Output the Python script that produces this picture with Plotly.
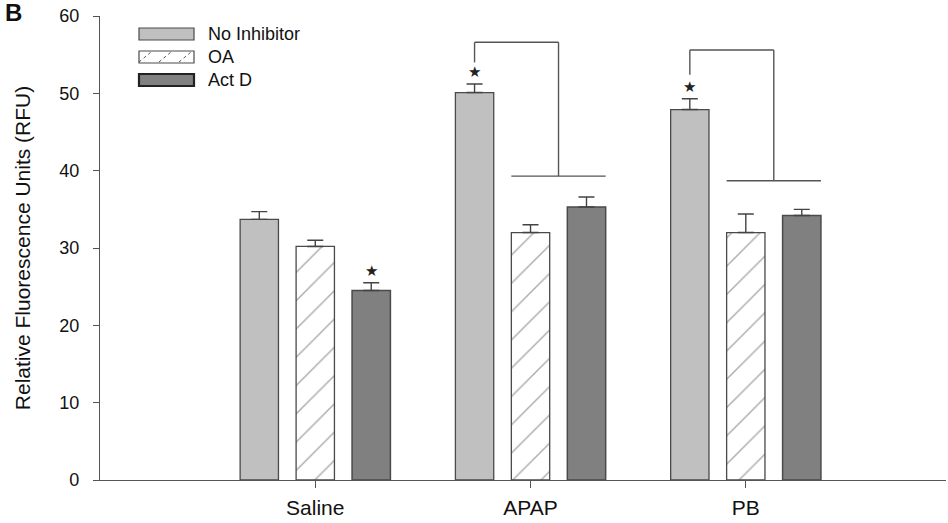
import plotly.graph_objects as go

# ---- data ----
categories = ["Saline", "APAP", "PB"]
series_names = ["No Inhibitor", "OA", "Act D"]
no_inhibitor = [33.7, 50.1, 47.9]
no_inhibitor_err = [1.0, 1.1, 1.4]
oa = [30.2, 32.0, 32.0]
oa_err = [0.8, 1.0, 2.4]
act_d = [24.5, 35.3, 34.2]
act_d_err = [1.0, 1.3, 0.8]
y_ticks = [0, 10, 20, 30, 40, 50, 60]

# significance marks: (series index, category index)
stars = [(2, 0), (0, 1), (0, 2)]
# brackets: category index, top level, left-drop end, lower bar level
bracket_cats = [1, 2]
bracket_top = [56.6, 55.6]
bracket_left_end = [54.0, 52.4]
bracket_low = [39.3, 38.7]

values = [no_inhibitor, oa, act_d]
errors = [no_inhibitor_err, oa_err, act_d_err]

# ---- style ----
FONT = "Liberation Sans, Arial, sans-serif"
EDGE = "#4a4a4a"
AX = "#555555"
fills = ["#c0c0c0", "#ffffff", "#808080"]
edge_w = [1.3, 1.3, 1.5]

bargap = 0.22
bargroupgap = 0.315
pitch = (1 - bargap) / 3
bar_w = pitch * (1 - bargroupgap)
offsets = [-pitch, 0.0, pitch]

fig = go.Figure()
for i, name in enumerate(series_names):
    marker = dict(color=fills[i], line=dict(color=EDGE, width=edge_w[i]))
    if i == 1:
        marker["pattern"] = dict(shape="/", fgcolor="#555555", bgcolor="#ffffff",
                                 size=20, solidity=0.07)
    fig.add_trace(go.Bar(
        name=name, x=categories, y=values[i], marker=marker,
        error_y=dict(type="data", array=errors[i], arrayminus=[0] * len(categories),
                     symmetric=False, color="#444444", thickness=1.4, width=8),
        showlegend=False,
    ))

# stars above error bars
for s, c in stars:
    top = values[s][c] + errors[s][c]
    fig.add_annotation(x=c + offsets[s], y=top, xref="x", yref="y", text="★",
                       showarrow=False, yanchor="bottom", yshift=1,
                       font=dict(family="DejaVu Sans", size=15, color="#222222"))

# brackets
line = dict(color=AX, width=1.4)
for k, c in enumerate(bracket_cats):
    xl = c + offsets[0]
    xr = c + (offsets[1] + offsets[2]) / 2
    fig.add_shape(type="line", xref="x", yref="y", x0=xl, x1=xr,
                  y0=bracket_top[k], y1=bracket_top[k], line=line)
    fig.add_shape(type="line", xref="x", yref="y", x0=xl, x1=xl,
                  y0=bracket_top[k], y1=bracket_left_end[k], line=line)
    fig.add_shape(type="line", xref="x", yref="y", x0=xr, x1=xr,
                  y0=bracket_top[k], y1=bracket_low[k], line=line)
    fig.add_shape(type="line", xref="x", yref="y",
                  x0=c + offsets[1] - bar_w / 2, x1=c + offsets[2] + bar_w / 2,
                  y0=bracket_low[k], y1=bracket_low[k], line=line)

# manual legend (wide boxes like the original)
W, H = 948, 523
ML, MR, MT, MB = 100, 2, 16, 43
pw, ph = W - ML - MR, H - MT - MB
def px(x): return (x - ML) / pw
def py(y): return 1 - (y - MT) / ph
rows = [34, 57, 80]
for i, name in enumerate(series_names):
    y0, y1 = py(rows[i] + 6), py(rows[i] - 6)
    fig.add_shape(type="rect", xref="paper", yref="paper",
                  x0=px(139), x1=px(194), y0=y0, y1=y1,
                  fillcolor=fills[i],
                  line=dict(color="#222222" if i == 2 else EDGE,
                            width=2.2 if i == 2 else 1.2))
    if i == 1:
        for hx in [146, 166, 186]:
            fig.add_shape(type="line", xref="paper", yref="paper",
                          x0=px(hx - 7), x1=px(hx + 5), y0=py(rows[i] + 5), y1=py(rows[i] - 5),
                          line=dict(color="#555555", width=1, dash="dot"))
    fig.add_annotation(x=px(206), y=py(rows[i]), xref="paper", yref="paper",
                       text=name, showarrow=False, xanchor="left", yanchor="middle",
                       font=dict(family=FONT, size=18, color="#111111"))

# panel letter
fig.add_annotation(x=px(3), y=py(0), xref="paper", yref="paper", text="<b>B</b>",
                   showarrow=False, xanchor="left", yanchor="top", yshift=3,
                   font=dict(family=FONT, size=24, color="#111111"))

fig.update_layout(
    width=W, height=H,
    margin=dict(l=ML, r=MR, t=MT, b=MB),
    paper_bgcolor="white", plot_bgcolor="white",
    barmode="group", bargap=bargap, bargroupgap=bargroupgap,
    font=dict(family=FONT, color="#111111"),
)
fig.update_xaxes(
    type="category", range=[-1.0, 2.93], showline=True, linecolor=AX, linewidth=1.4,
    ticks="outside", ticklen=7, tickcolor=AX, tickwidth=1.2, showgrid=False,
    tickfont=dict(family=FONT, size=21, color="#111111"), ticklabelstandoff=2,
)
fig.update_yaxes(
    range=[0, 60], tickvals=y_ticks, showline=True, linecolor=AX, linewidth=1.4,
    ticks="outside", ticklen=6, tickcolor=AX, tickwidth=1.2, showgrid=False, zeroline=False,
    tickfont=dict(family=FONT, size=18, color="#111111"), ticklabelstandoff=10,
    title=dict(text="Relative Fluorescence Units (RFU)", standoff=22,
               font=dict(family=FONT, size=21, color="#111111")),
)

fig.write_html("out.html", config={"displayModeBar": False},
               post_script="document.body.style.margin='0px';")
